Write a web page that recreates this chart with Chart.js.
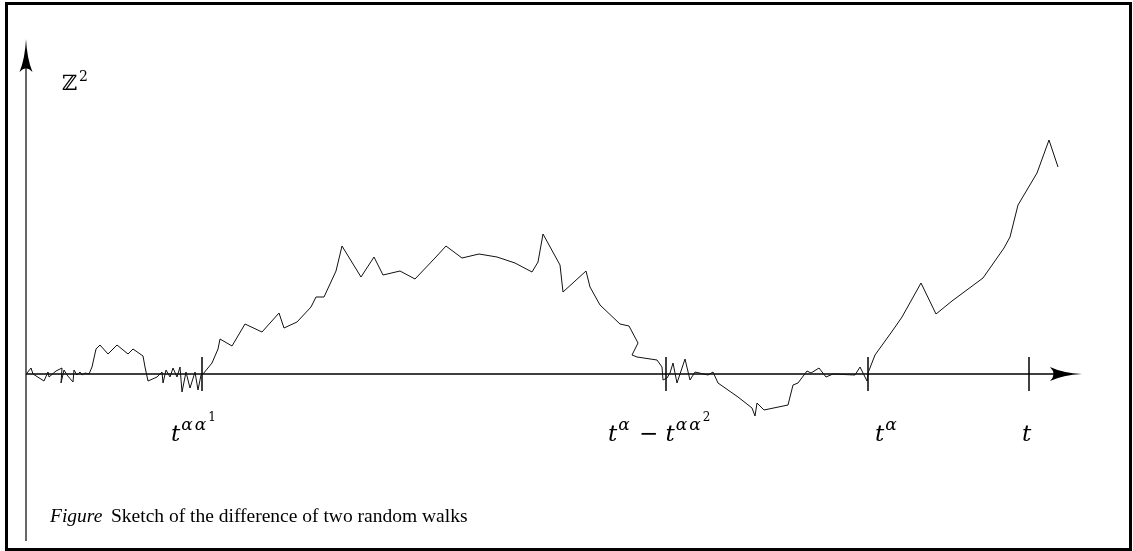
<!DOCTYPE html>
<html>
<head>
<meta charset="utf-8">
<title>Sketch of the difference of two random walks</title>
<script src="https://cdn.jsdelivr.net/npm/chart.js@4.4.1/dist/chart.umd.min.js"></script>
<style>
  html, body { margin:0; padding:0; background:#fff; }
  #wrap { position:relative; width:1133px; height:551px; }
</style>
</head>
<body>
<div id="wrap"><canvas id="walkChart"></canvas></div>
<script>
/* ================================================================
   DATA — time t (horizontal) and difference of the walks (vertical)
================================================================ */
const TIMES = [
  1, 5, 7, 18, 22, 23, 30, 36, 35, 38, 41, 47, 48, 51, 54, 56, 59, 63,
  66, 70, 74, 82, 91, 102, 107, 117, 119, 122, 131, 136, 137, 140, 144, 147,
  151, 154, 156, 160, 164, 169, 172, 175, 177,
  186, 192, 194, 206, 219, 236, 253, 258, 271, 285, 290, 298, 310, 316,
  335, 348, 357, 374, 389, 409, 420, 436, 453, 471, 489, 506, 512, 517,
  534, 537, 560, 564, 574, 594, 603, 612, 606, 611, 631, 636,
  637, 641, 644, 647, 651, 659, 664, 669, 682, 687, 692,
  712, 726, 729, 731, 738, 762, 767, 772, 781, 785, 793, 800, 807, 829, 834, 841, 842,
  849, 867, 876, 895, 910, 926, 957, 978, 984, 992, 1011, 1023, 1032
];
const WALK = [
  1, 6, 0, -7, 2, -3, 3, 6, -9, 4, -1, -8, 4, -1, 2, -1, 1, 0,
  7, 25, 29, 20, 29, 20, 25, 18, 7, -7, -3, 2, -9, 4, -3, 6,
  -3, 7, -18, 2, -14, 2, -16, -1, 0,
  11, 25, 35, 28, 50, 42, 61, 46, 52, 67, 77, 77, 103, 128,
  97, 117, 99, 103, 95, 116, 128, 116, 120, 117, 111, 102, 112, 140,
  109, 82, 103, 87, 69, 50, 48, 31, 19, 17, 14, 7,
  -6, -4, 1, 11, -9, 15, -6, 2, -1, 2, -9,
  -23, -34, -42, -29, -36, -31, -11, -9, 3, 1, 6, -3, 0, -1, 7, -7, 1,
  19, 44, 57, 91, 60, 73, 96, 126, 137, 169, 201, 234, 207
];

// axis extent (arrow tips / ends) and marked times
const AXIS_T_END   = 1056;
const AXIS_V_TOP   = 335;
const AXIS_V_BOT   = -167;
const TICK_TIMES   = [176, 640, 842, 1003];
const TICK_HALF    = 17;

// tick labels: pieces of [text, level]  (0 = base, 1 = superscript, 2 = sup of sup)
const TICK_LABELS = [
  [['t', 0], ['αα', 1], ['1', 2]],
  [['t', 0], ['α', 1], [' − ', 0], ['t', 0], ['αα', 1], ['2', 2]],
  [['t', 0], ['α', 1]],
  [['t', 0]]
];
const LABEL_START  = [145, 582, 849, 996];

const CAPTION_LEAD = 'Figure';
const CAPTION_TEXT = 'Sketch of the difference of two random walks';

/* ================================================================
   SKETCH PLUGIN — frame, axes with arrows, marks and texts
================================================================ */
const INK = '#000';
const SERIF = '"Liberation Serif", "DejaVu Serif", serif';
const MATH  = '"DejaVu Serif", serif';

function arrowHead(ctx, tipX, tipY, dir, len, half) {
  // dir: 'up' or 'right'; LaTeX-like concave back
  ctx.beginPath();
  if (dir === 'up') {
    ctx.moveTo(tipX, tipY);
    ctx.quadraticCurveTo(tipX - 1, tipY + len * 0.6, tipX - half, tipY + len);
    ctx.quadraticCurveTo(tipX, tipY + len * 0.78, tipX + half, tipY + len);
    ctx.quadraticCurveTo(tipX + 1, tipY + len * 0.6, tipX, tipY);
  } else {
    ctx.moveTo(tipX, tipY);
    ctx.quadraticCurveTo(tipX - len * 0.6, tipY - 1, tipX - len, tipY - half);
    ctx.quadraticCurveTo(tipX - len * 0.78, tipY, tipX - len, tipY + half);
    ctx.quadraticCurveTo(tipX - len * 0.6, tipY + 1, tipX, tipY);
  }
  ctx.closePath();
  ctx.fill();
}

function drawMath(ctx, pieces, x, baseY) {
  const sizes  = [23, 17, 12];
  const shifts = [0, 11, 20];
  pieces.forEach(([txt, lvl]) => {
    const italic = /[tα]/.test(txt) ? 'italic ' : '';
    ctx.font = `${italic}${sizes[lvl]}px ${MATH}`;
    // draw char by char so the greek letters get a little air, like TeX math
    [...txt].forEach(ch => {
      ctx.fillText(ch, x, baseY - shifts[lvl]);
      x += ctx.measureText(ch).width + (ch === 'α' ? 2 : 0);
    });
    if (lvl === 0 && italic) x += 1;
  });
}

const sketchPlugin = {
  id: 'sketch',
  beforeDatasetsDraw(chart) {
    const { ctx, scales: { x, y } } = chart;
    const x0 = x.getPixelForValue(0), y0 = y.getPixelForValue(0);
    ctx.save();
    ctx.strokeStyle = INK;
    ctx.fillStyle = INK;

    // outer frame
    ctx.lineWidth = 3;
    ctx.strokeRect(6.5, 3.5, 1124, 546);

    // vertical axis
    ctx.lineWidth = 1.2;
    ctx.beginPath();
    ctx.moveTo(x0, y.getPixelForValue(AXIS_V_TOP) + 20);
    ctx.lineTo(x0, y.getPixelForValue(AXIS_V_BOT));
    ctx.stroke();
    arrowHead(ctx, x0, y.getPixelForValue(AXIS_V_TOP), 'up', 33, 6.5);

    // horizontal axis
    ctx.lineWidth = 1.7;
    ctx.beginPath();
    ctx.moveTo(x0, y0);
    ctx.lineTo(x.getPixelForValue(AXIS_T_END) - 20, y0);
    ctx.stroke();
    arrowHead(ctx, x.getPixelForValue(AXIS_T_END), y0, 'right', 32, 7);

    // marks on the time axis
    ctx.lineWidth = 1.5;
    TICK_TIMES.forEach(t => {
      const px = x.getPixelForValue(t);
      ctx.beginPath();
      ctx.moveTo(px, y.getPixelForValue(TICK_HALF));
      ctx.lineTo(px, y.getPixelForValue(-TICK_HALF));
      ctx.stroke();
    });

    // labels under the marks
    ctx.textBaseline = 'alphabetic';
    TICK_LABELS.forEach((pieces, i) => {
      drawMath(ctx, pieces, x.getPixelForValue(LABEL_START[i]), 441);
    });

    // Z^2 label of the vertical axis
    ctx.font = `21px ${MATH}`;
    ctx.fillText('ℤ', 62, 90);
    ctx.font = `14px ${MATH}`;
    ctx.fillText('2', 79, 81);

    // caption
    ctx.font = `italic 19.5px ${SERIF}`;
    ctx.fillText(CAPTION_LEAD, 50, 522);
    ctx.font = `19.5px ${SERIF}`;
    ctx.fillText(CAPTION_TEXT, 111, 522);

    ctx.restore();
  }
};

/* ================================================================
   LINE CHART — the walk
================================================================ */
const points = TIMES.map((t, i) => ({ x: t, y: WALK[i] }));

new Chart(document.getElementById('walkChart'), {
  type: 'line',
  data: {
    datasets: [{
      data: points,
      borderColor: '#111',
      borderWidth: 1,
      pointRadius: 0,
      tension: 0,
      fill: false,
      clip: false
    }]
  },
  options: {
    responsive: true,
    maintainAspectRatio: false,
    animation: false,
    events: [],
    layout: { padding: 0 },
    plugins: { legend: { display: false }, tooltip: { enabled: false } },
    scales: {
      x: { type: 'linear', min: -26, max: 1107, display: false },
      y: { type: 'linear', min: -177, max: 374, display: false }
    }
  },
  plugins: [sketchPlugin]
});
</script>
</body>
</html>
